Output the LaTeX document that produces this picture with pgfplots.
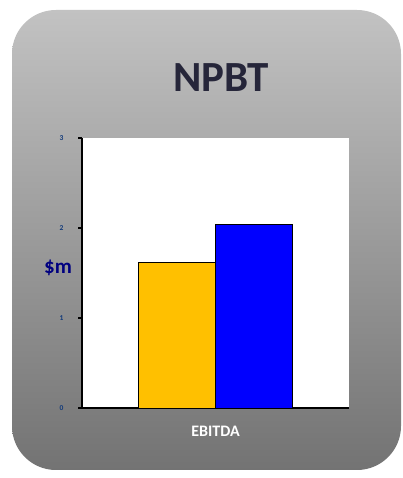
\documentclass[border=0pt]{standalone}
\usepackage{pgfplots}
\pgfplotsset{compat=1.18}
\usepackage{fontspec}
\setmainfont{Carlito}
\definecolor{bgtop}{HTML}{C2C2C2}
\definecolor{bgbot}{HTML}{737373}
\definecolor{titlecol}{HTML}{26263A}
\definecolor{barY}{HTML}{FFC000}
\definecolor{barB}{HTML}{0000FF}
\definecolor{ticklab}{HTML}{123A7A}
\definecolor{ylabcol}{HTML}{000080}
\begin{document}
\begin{tikzpicture}[x=1pt,y=1pt]
\path[use as bounding box, fill=white] (0,0) rectangle (403,478);
\shade[top color=bgtop, bottom color=bgbot, rounded corners=44pt] (12,8) rectangle (401,468);
\node[text=titlecol, font=\fontsize{43}{48}\selectfont\bfseries] at (221,400) {NPBT};
\begin{axis}[
  at={(82pt,70pt)}, anchor=south west,
  scale only axis, width=267pt, height=270pt,
  axis background/.style={fill=white},
  axis x line=bottom, axis y line=left,
  axis line style={-},
  x axis line style={line width=2.5pt},
  y axis line style={line width=1.2pt},
  xmin=0.5, xmax=1.5, ymin=0, ymax=3,
  ytick={0,1,2,3},
  xtick={1}, xticklabels={EBITDA},
  extra x ticks={0.5,1.5}, extra x tick labels={},
  extra x tick style={major tick length=5pt, tick style={line width=1.5pt, black}},
  tick align=outside,
  major tick length=4pt,
  x tick style={draw=none},
  y tick style={line width=1.2pt, black},
  /pgf/number format/assume math mode=true,
  xticklabel style={text=white, font=\fontsize{16}{18}\selectfont\bfseries, yshift=-11pt},
  yticklabel style={text=ticklab, font=\fontsize{7.5}{8}\selectfont\bfseries, xshift=-11pt},
  ylabel={\$m},
  ylabel style={rotate=-90, at={(rel axis cs:0,0.518)}, anchor=center, xshift=-24pt, text=ylabcol, font=\fontsize{21}{22}\selectfont\bfseries},
  ybar=0pt, bar width=77pt,
  clip=false,
]
\addplot[fill=barY, draw=black, line width=0.6pt, bar shift=-38.5pt] coordinates {(1,1.62)};
\addplot[fill=barB, draw=black, line width=0.6pt, bar shift=38.5pt] coordinates {(1,2.04)};
\end{axis}
\end{tikzpicture}
\end{document}
